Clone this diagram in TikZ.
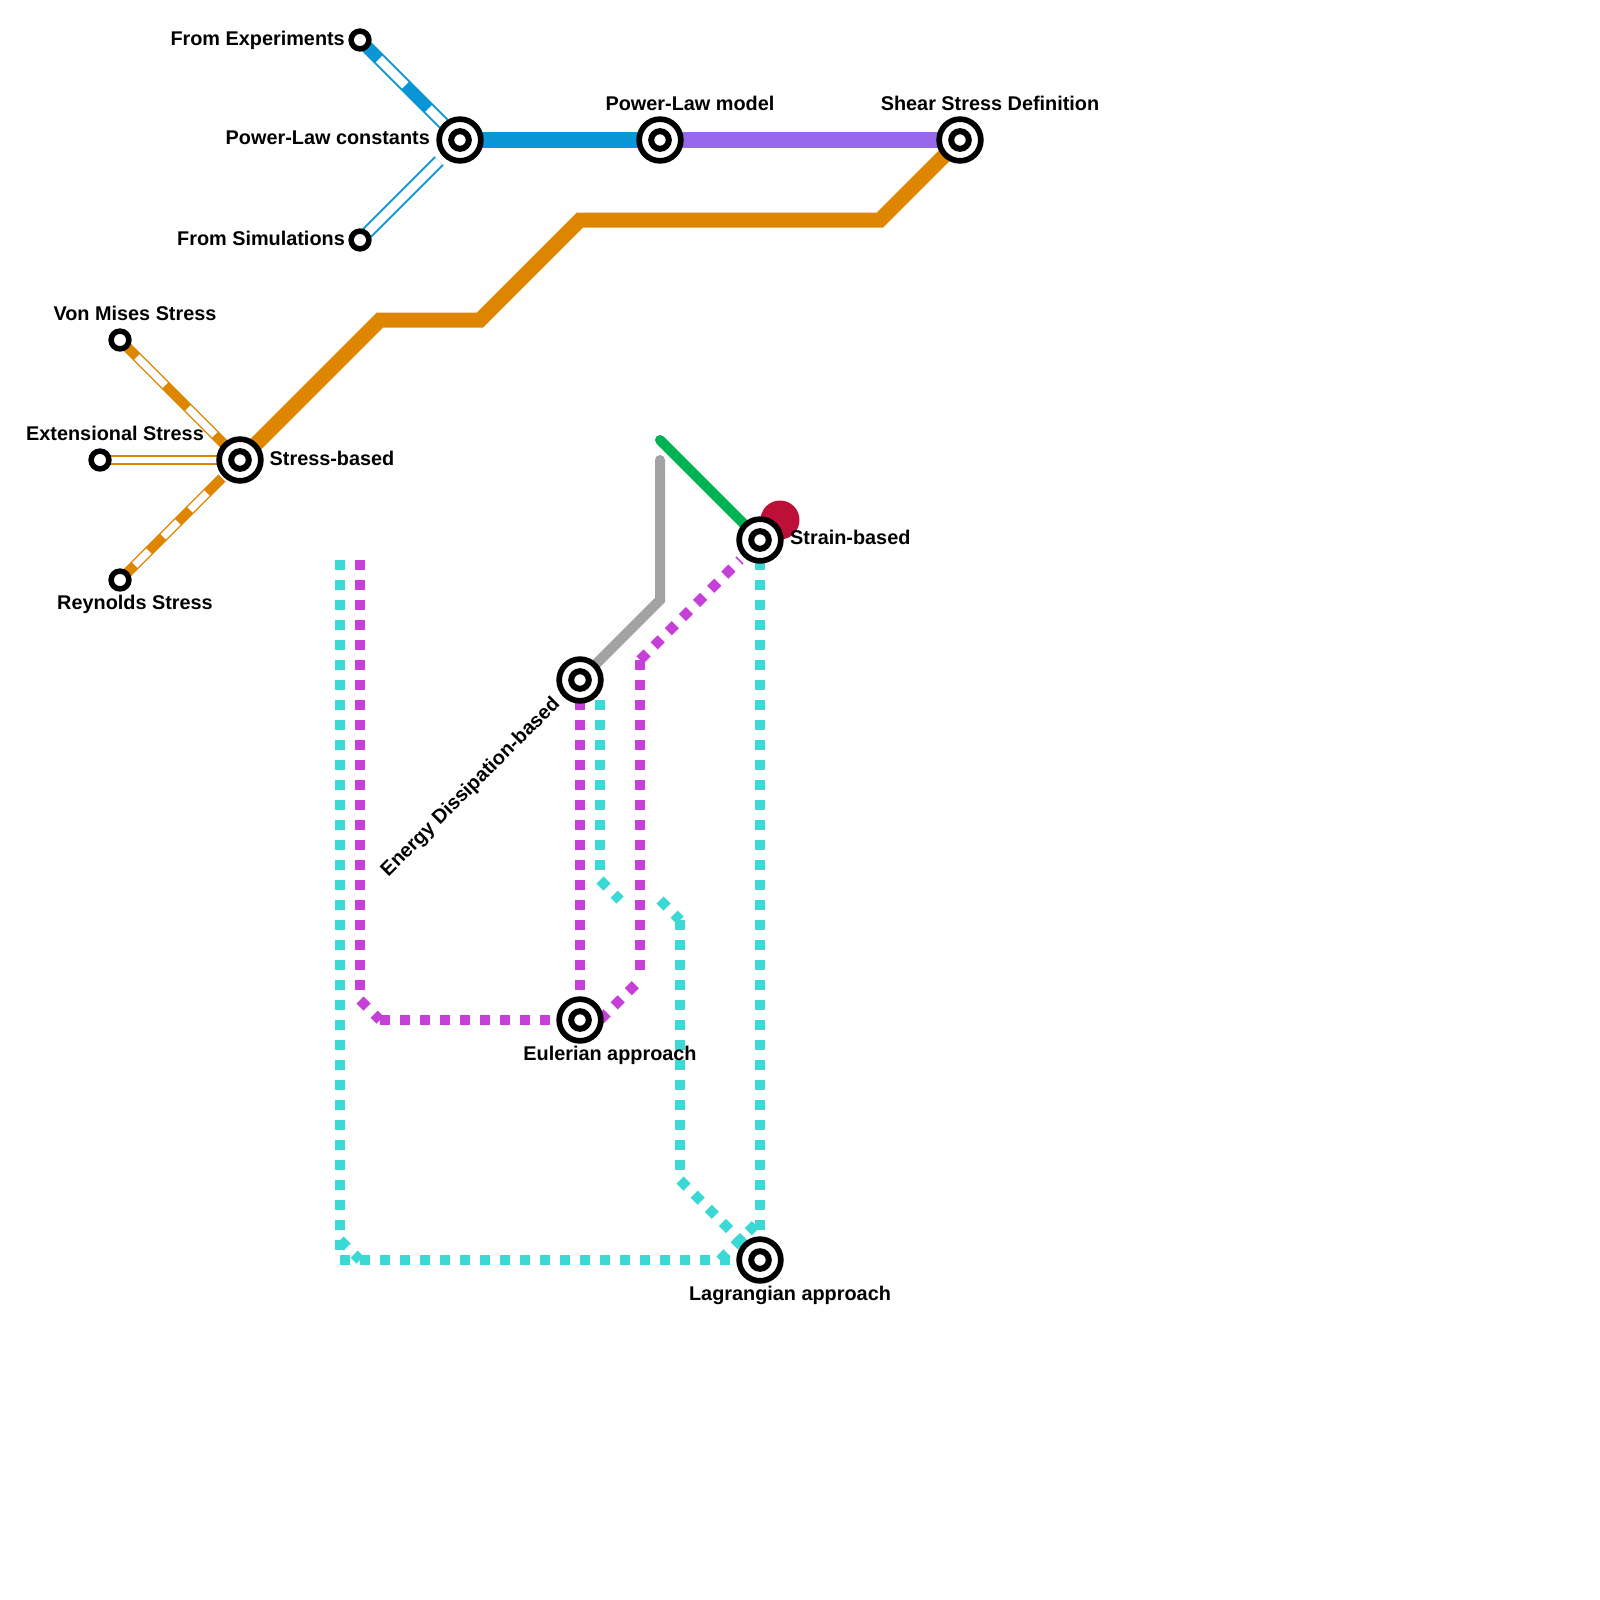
\documentclass[tikz,border=0pt]{standalone}
\usepackage{fontspec}
\setmainfont{Liberation Sans}
\definecolor{cblue}{HTML}{0896D7}
\definecolor{corange}{HTML}{DF8600}
\definecolor{cviolet}{HTML}{9768EC}
\definecolor{cteal}{HTML}{3BD9D6}
\definecolor{cmag}{HTML}{C63FD9}
\definecolor{cgreen}{HTML}{00B251}
\definecolor{cgray}{HTML}{A2A2A2}
\definecolor{cred}{HTML}{BD1038}
\tikzset{
  trunk/.style={line width=15pt,line join=miter},
  thinbranch/.style={line width=10pt},
  bluebranch/.style={line width=13pt},
  dotline/.style={line width=10pt,dash pattern=on 10pt off 10pt},
  bigstn/.style={circle,draw=black,fill=white,line width=5.7pt,minimum size=41.7pt,inner sep=0pt,outer sep=0pt,
    path picture={\draw[black,line width=6pt] (path picture bounding box.center) circle (8.8pt);}},
  endstn/.style={circle,draw=black,fill=white,line width=5.5pt,minimum size=17.8pt,inner sep=0pt,outer sep=0pt},
  lbl/.style={font=\fontsize{19.85}{22}\selectfont\bfseries,inner sep=0pt,text=black}
}
\begin{document}
\begin{tikzpicture}[x=1pt,y=-1pt]
\useasboundingbox (0,0) rectangle (1600,1600);
\fill[white] (0,0) rectangle (1600,1600);
% named positions
\coordinate (exp) at (360,40);
\coordinate (plc) at (460,140);
\coordinate (sim) at (360,240);
\coordinate (plm) at (660,140);
\coordinate (shr) at (960,140);
\coordinate (vms) at (120,340);
\coordinate (ext) at (100,460);
\coordinate (rey) at (120,580);
\coordinate (str) at (240,460);
\coordinate (stn) at (760,540);
\coordinate (eng) at (580,680);
\coordinate (eul) at (580,1020);
\coordinate (lag) at (760,1260);
\coordinate (o1) at (380,320);
\coordinate (o2) at (480,320);
\coordinate (o3) at (580,220);
\coordinate (o4) at (880,220);
\coordinate (reyend) at (222,478);
\coordinate (simend) at (439,161);
\coordinate (gr0) at (660,460);
\coordinate (gr1) at (660,600);
\coordinate (gn0) at (660,440);
\coordinate (redc) at (780,520);
\fill[cred] (redc) circle (19.5pt);
% trunk lines
\draw[trunk,corange] (str) -- (o1) -- (o2) -- (o3) -- (o4) -- (shr);
\draw[trunk,cblue] (plc) -- (plm);
\draw[trunk,cviolet] (plm) -- (shr);
\draw[cgreen,line width=10pt,line cap=round] (gn0) -- (stn);
\draw[cgray,line width=10pt,line cap=round] (gr0) -- (gr1) -- (eng);
% cased branches
\draw[bluebranch,cblue] (exp) -- (plc);
\draw[white,line width=9pt,dash pattern=on 0pt off 27pt on 37pt off 33pt on 60pt off 100pt] (exp) -- (plc);
\draw[bluebranch,cblue] (sim) -- (simend);
\draw[white,line width=9pt] (sim) -- (simend);
\draw[thinbranch,corange] (vms) -- (str);
\draw[white,line width=7.4pt,dash pattern=on 0pt off 24pt on 40pt off 32pt on 38pt off 100pt] (vms) -- (str);
\draw[thinbranch,corange] (ext) -- (str);
\draw[white,line width=6pt] (ext) -- (str);
\draw[thinbranch,corange] (rey) -- (reyend);
\draw[white,line width=7.4pt,dash pattern=on 0pt off 21pt on 20pt off 20pt on 21pt off 17pt on 24pt off 60pt] (rey) -- (reyend);
% dotted teal
\coordinate (t1) at (340,560);
\coordinate (t2) at (340,1260);
\coordinate (t3) at (340,1240);
\coordinate (t4) at (360,1260);
\coordinate (t5) at (600,700);
\coordinate (t6) at (600,880);
\coordinate (t7) at (620,900);
\coordinate (t8) at (660,900);
\coordinate (t9) at (680,920);
\coordinate (t10) at (680,1180);
\coordinate (t11) at (720,1260);
\coordinate (t12) at (760,1220);
\draw[dotline,cteal] (t1) -- (t2);
\draw[dotline,cteal] (t3) -- (t4);
\draw[dotline,cteal] (t2) -- (lag);
\draw[dotline,cteal] (t5) -- (t6);
\draw[dotline,cteal] (t6) -- (t7);
\draw[dotline,cteal] (t8) -- (t9);
\draw[dotline,cteal] (t9) -- (t10);
\draw[dotline,cteal] (t10) -- (lag);
\draw[dotline,cteal] (stn) -- (lag);
\draw[dotline,cteal] (t11) -- (t12);
% dotted magenta
\coordinate (m1) at (360,560);
\coordinate (m2) at (360,1000);
\coordinate (m3) at (380,1020);
\coordinate (m4) at (640,660);
\coordinate (m5) at (740,560);
\coordinate (m6) at (640,980);
\coordinate (m7) at (600,1020);
\draw[dotline,cmag] (m1) -- (m2);
\draw[dotline,cmag] (m2) -- (m3);
\draw[dotline,cmag] (m3) -- (eul);
\draw[dotline,cmag] (eng) -- (eul);
\draw[dotline,cmag] (m4) -- (m5);
\draw[dotline,cmag] (m4) -- (m6);
\draw[dotline,cmag] (m7) -- (m6);
% stations
\node[endstn] (nexp) at (exp) {};
\node[endstn] (nsim) at (sim) {};
\node[endstn] (nvms) at (vms) {};
\node[endstn] (next) at (ext) {};
\node[endstn] (nrey) at (rey) {};
\node[bigstn] (nplc) at (plc) {};
\node[bigstn] (nplm) at (plm) {};
\node[bigstn] (nshr) at (shr) {};
\node[bigstn] (nstr) at (str) {};
\node[bigstn] (nstn) at (stn) {};
\node[bigstn] (neng) at (eng) {};
\node[bigstn] (neul) at (eul) {};
\node[bigstn] (nlag) at (lag) {};
% labels
\node[lbl,anchor=east] (lexp) at (345,40) {From Experiments};
\node[lbl,anchor=east] (lplc) at (430,138) {Power-Law constants};
\node[lbl,anchor=east] (lsim) at (345,238) {From Simulations};
\node[lbl] (lvms) at (135,313) {Von Mises Stress};
\node[lbl] (lext) at (115,433) {Extensional Stress};
\node[lbl] (lrey) at (135,604.5) {Reynolds Stress};
\node[lbl,anchor=west] (lstr) at (269.5,458) {Stress-based};
\node[lbl] (lplm) at (690,103) {Power-Law model};
\node[lbl] (lshr) at (990,103) {Shear Stress Definition};
\node[lbl,anchor=west] (lstn) at (790,537) {Strain-based};
\node[lbl,rotate=45] (leng) at (471,787.5) {Energy Dissipation-based};
\node[lbl] (leul) at (610,1055.5) {Eulerian approach};
\node[lbl] (llag) at (790,1295.5) {Lagrangian approach};
\end{tikzpicture}
\end{document}
